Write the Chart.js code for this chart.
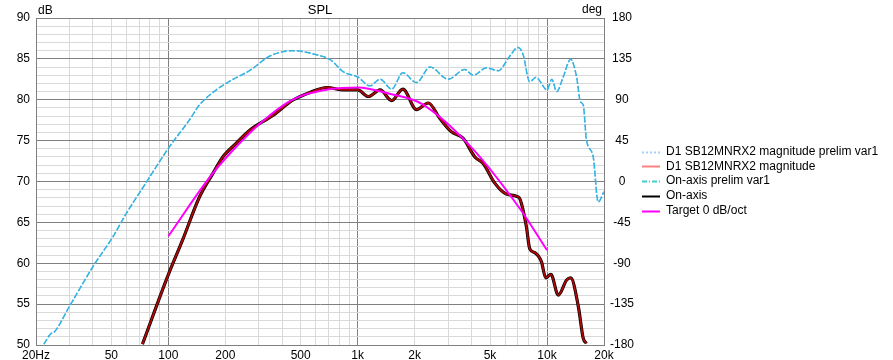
<!DOCTYPE html>
<html>
<head>
<meta charset="utf-8">
<script src="https://cdn.jsdelivr.net/npm/chart.js@4/dist/chart.umd.min.js"></script>
<style>
    html, body { margin: 0; padding: 0; background: #fff; }
    #wrap { width: 893px; height: 360px; }
</style>
</head>
<body>
<div id="wrap"><canvas id="spl" width="893" height="360"></canvas></div>
<script>
(function () {
    "use strict";

    // Prelim var1 response (both prelim traces sit on top of each other)
    const prelimFreq = [22, 24, 25, 30, 40, 51, 60, 76, 100, 129, 146, 172, 212, 270, 344, 456, 606, 716, 842, 1000,
        1160, 1314, 1512, 1732, 2046, 2412, 3010, 3680, 4070, 4800, 5530, 6340, 7040, 7480, 8100, 8770, 9100,
        10000, 10600, 11260, 12180, 13340, 14330, 15000, 15540, 16150, 17540, 18620, 20000];
    const prelimDb = [50.1, 51.4, 51.6, 54.7, 59.6, 63.25, 66.1, 69.8, 74.06, 77.5, 79.36, 80.9, 82.3, 83.6, 85.35, 86.0, 85.5, 84.9, 83.4, 82.8,
        81.7, 82.5, 81.3, 83.3, 82.1, 84.0, 82.5, 83.7, 83.0, 83.9, 83.55, 85.3, 86.4, 85.5, 82.2, 82.75, 82.4,
        81.2, 82.5, 81.0, 82.8, 84.95, 82.8, 79.76, 79.36, 75.1, 73.0, 67.5, 68.75];

    // Final on-axis response (driver magnitude and on-axis overlap)
    const onAxisFreq = [73, 100, 119, 146, 172, 194, 228, 270, 358, 456, 560, 688, 842, 1000, 1138, 1314, 1512, 1732,
        2046, 2360, 2720, 3120, 3600, 4160, 4600, 5300, 6000, 6900, 7180, 7780, 8100, 8620, 9340, 9850, 10480,
        11470, 12700, 13340, 14640, 15540, 16150];
    const onAxisDb = [50.1, 58.6, 62.85, 68.1, 71.0, 73.0, 74.67, 76.3, 78.1, 79.97, 80.9, 81.5, 81.2, 81.2, 80.4, 81.2, 79.9, 81.3,
        78.8, 79.6, 77.7, 76.1, 75.3, 73.0, 72.2, 69.8, 68.55, 68.2, 67.9, 64.5, 61.8, 61.3, 60.2, 58.2, 58.65,
        56.1, 57.95, 58.2, 54.7, 50.8, 50.2];

    // Target curve
    const targetFreq = [100, 164, 212, 305, 456, 716, 1000, 1490, 2180, 3940, 7180, 10000];
    const targetDb = [63.3, 70.4, 73.45, 77.1, 80.05, 81.3, 81.5, 80.7, 79.5, 74.3, 66.7, 61.6];

    const seriesNames = [
        "D1 SB12MNRX2 magnitude prelim var1",
        "D1 SB12MNRX2 magnitude",
        "On-axis prelim var1",
        "On-axis",
        "Target 0 dB/oct"
    ];

    const freqTickValues = [20, 50, 100, 200, 500, 1000, 2000, 5000, 10000, 20000];
    const freqTickLabels = ["20Hz", "50", "100", "200", "500", "1k", "2k", "5k", "10k", "20k"];
    const freqMajor = [20, 100, 1000, 10000, 20000];
    const phaseTicks = [-180, -135, -90, -45, 0, 45, 90, 135, 180];

    const toPoints = (fs, ys) => fs.map((f, i) => ({ x: f, y: ys[i] }));

    // grid lines at 1..9 of every decade
    const freqGrid = [];
    [10, 100, 1000, 10000].forEach((d) => {
        for (let m = 1; m <= 9; m++) {
            const v = m * d;
            if (v >= 20 && v <= 20000) freqGrid.push(v);
        }
    });
    const dbGrid = [];
    for (let v = 50; v <= 90; v++) dbGrid.push(v);

    const FONT = "'Liberation Sans', Arial, sans-serif";
    Chart.defaults.font.family = FONT;
    Chart.defaults.font.size = 12;
    Chart.defaults.color = "#000";

    const MAJOR = "#808080";
    const MINOR = "#d9d9d9";

    const legendStyles = [
        { color: "#a9cdf5", dash: [2, 2], width: 2 },
        { color: "#ff8080", dash: [], width: 2 },
        { color: "#3fcfcf", dash: [5, 2, 1, 2], width: 2 },
        { color: "#000000", dash: [], width: 2 },
        { color: "#ff00ff", dash: [], width: 2 }
    ];

    const textPlugin = {
        id: "splText",
        afterDraw(chart) {
            const ctx = chart.ctx;
            const area = chart.chartArea;
            ctx.save();
            ctx.fillStyle = "#000";
            ctx.textBaseline = "alphabetic";
            ctx.font = "12px " + FONT;
            ctx.textAlign = "left";
            ctx.fillText("dB", area.left + 2, 14);
            ctx.textAlign = "right";
            ctx.fillText("deg", area.right - 2, 13);
            ctx.font = "13px " + FONT;
            ctx.textAlign = "center";
            ctx.fillText("SPL", (area.left + area.right) / 2, 14);

            // legend
            ctx.font = "12px " + FONT;
            ctx.textAlign = "left";
            ctx.textBaseline = "middle";
            seriesNames.forEach((name, i) => {
                const y = 151.5 + i * 14.8;
                const st = legendStyles[i];
                ctx.beginPath();
                ctx.strokeStyle = st.color;
                ctx.lineWidth = st.width;
                ctx.setLineDash(st.dash);
                ctx.moveTo(642, Math.round(y) + 0.5);
                ctx.lineTo(660, Math.round(y) + 0.5);
                ctx.stroke();
                ctx.setLineDash([]);
                ctx.fillStyle = "#000";
                ctx.fillText(name, 666, y);
            });
            ctx.restore();
        }
    };

    new Chart(document.getElementById("spl").getContext("2d"), {
        type: "line",
        data: {
            datasets: [
                {
                    label: seriesNames[0],
                    data: toPoints(prelimFreq, prelimDb),
                    borderColor: "#8fc6f0",
                    borderWidth: 1.5,
                    borderDash: [2, 2],
                    order: 4
                },
                {
                    label: seriesNames[1],
                    data: toPoints(onAxisFreq, onAxisDb),
                    borderColor: "#b00808",
                    borderWidth: 1.8,
                    order: 1
                },
                {
                    label: seriesNames[2],
                    data: toPoints(prelimFreq, prelimDb),
                    borderColor: "#30b4e2",
                    borderWidth: 1.5,
                    borderDash: [6, 2],
                    order: 3
                },
                {
                    label: seriesNames[3],
                    data: toPoints(onAxisFreq, onAxisDb),
                    borderColor: "#000000",
                    borderWidth: 3.2,
                    order: 2
                },
                {
                    label: seriesNames[4],
                    data: toPoints(targetFreq, targetDb),
                    borderColor: "#ff00ff",
                    borderWidth: 2,
                    order: 0
                }
            ]
        },
        options: {
            responsive: false,
            animation: false,
            events: [],
            layout: { padding: { left: 0, top: 18, right: 249, bottom: 0 } },
            elements: {
                point: { radius: 0 },
                line: { cubicInterpolationMode: "monotone", fill: false }
            },
            plugins: {
                legend: { display: false },
                tooltip: { enabled: false }
            },
            scales: {
                x: {
                    type: "logarithmic",
                    min: 20,
                    max: 20000,
                    afterBuildTicks: (scale) => {
                        scale.ticks = freqGrid.map((v) => ({ value: v }));
                    },
                    afterFit: (scale) => { scale.height = 15; },
                    ticks: {
                        autoSkip: false,
                        maxRotation: 0,
                        padding: 3,
                        callback: (v) => {
                            const i = freqTickValues.indexOf(Number(v));
                            return i >= 0 ? freqTickLabels[i] : "";
                        }
                    },
                    grid: {
                        drawTicks: false,
                        color: (c) => (c.tick && freqMajor.includes(c.tick.value) ? MAJOR : MINOR)
                    },
                    border: { color: MAJOR }
                },
                y: {
                    type: "linear",
                    position: "left",
                    min: 50,
                    max: 90,
                    afterBuildTicks: (scale) => {
                        scale.ticks = dbGrid.map((v) => ({ value: v }));
                    },
                    afterFit: (scale) => { scale.width = 36; },
                    ticks: {
                        autoSkip: false,
                        padding: 6,
                        callback: (v) => (v % 5 === 0 ? String(v) : "")
                    },
                    grid: {
                        drawTicks: false,
                        color: (c) => (c.tick && c.tick.value % 5 === 0 ? MAJOR : MINOR)
                    },
                    border: { color: MAJOR }
                },
                y1: {
                    type: "linear",
                    position: "right",
                    min: -180,
                    max: 180,
                    afterBuildTicks: (scale) => {
                        scale.ticks = phaseTicks.map((v) => ({ value: v }));
                    },
                    afterFit: (scale) => { scale.width = 40; },
                    ticks: {
                        autoSkip: false,
                        padding: 6,
                        crossAlign: "center"
                    },
                    grid: { display: false, drawTicks: false },
                    border: { color: MAJOR }
                }
            }
        },
        plugins: [textPlugin]
    });
})();
</script>
</body>
</html>
